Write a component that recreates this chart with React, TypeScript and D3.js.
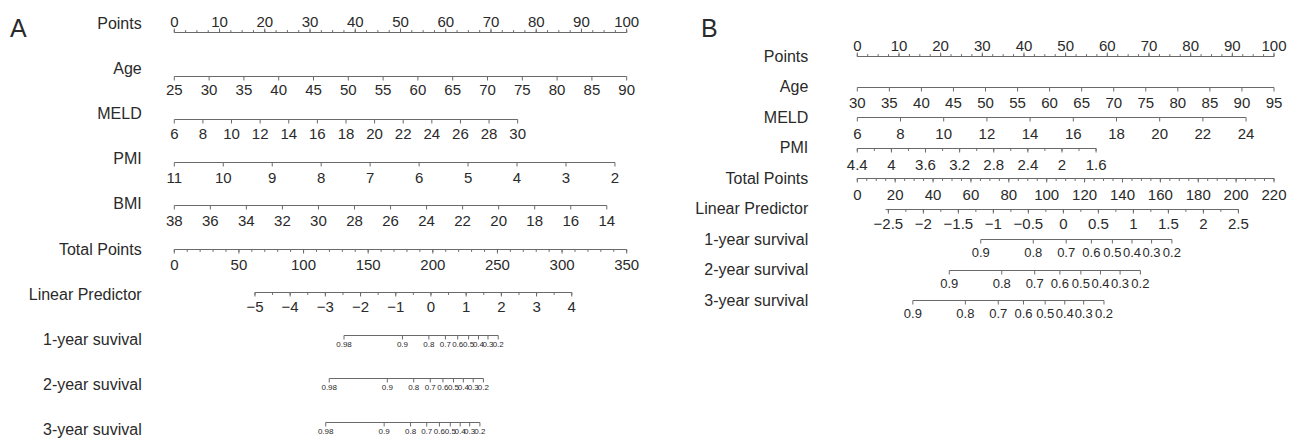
import React from "react";
import * as d3 from "d3";

const W = 1289;
const H = 438;
const FONT = "'Liberation Sans', Arial, Helvetica, sans-serif";
const TEXT = "#2a2a2a";
const LINE = "#6a6a6a";

// ---------- panel A data ----------
const aRowNames = [
  "Points",
  "Age",
  "MELD",
  "PMI",
  "BMI",
  "Total Points",
  "Linear Predictor",
  "1-year suvival",
  "2-year suvival",
  "3-year suvival",
];
const aPointTicks = [0, 10, 20, 30, 40, 50, 60, 70, 80, 90, 100];
const aAgeTicks = [25, 30, 35, 40, 45, 50, 55, 60, 65, 70, 75, 80, 85, 90];
const aAgePoints = [0, 100]; // points at 25 and 90
const aMeldTicks = [6, 8, 10, 12, 14, 16, 18, 20, 22, 24, 26, 28, 30];
const aMeldPoints = [0, 75.9];
const aPmiTicks = [11, 10, 9, 8, 7, 6, 5, 4, 3, 2];
const aPmiPoints = [0, 97.4];
const aBmiTicks = [38, 36, 34, 32, 30, 28, 26, 24, 22, 20, 18, 16, 14];
const aBmiPoints = [0, 95.6];
const aTotalTicks = [0, 50, 100, 150, 200, 250, 300, 350];
const aLpTicks = [-5, -4, -3, -2, -1, 0, 1, 2, 3, 4];
const aLpAtTotal = [62.4, 307.5]; // total points where lp = -5 and 4
const aSurvTicks = [0.98, 0.9, 0.8, 0.7, 0.6, 0.5, 0.4, 0.3, 0.2];
const aSurv1Lp = [-2.47, -0.81, -0.06, 0.41, 0.76, 1.07, 1.35, 1.62, 1.91];
const aSurv2Lp = [-2.89, -1.24, -0.49, -0.02, 0.34, 0.64, 0.92, 1.2, 1.49];
const aSurv3Lp = [-2.99, -1.33, -0.58, -0.12, 0.24, 0.55, 0.83, 1.1, 1.39];

// ---------- panel B data ----------
const bRowNames = [
  "Points",
  "Age",
  "MELD",
  "PMI",
  "Total Points",
  "Linear Predictor",
  "1-year survival",
  "2-year survival",
  "3-year survival",
];
const bPointTicks = [0, 10, 20, 30, 40, 50, 60, 70, 80, 90, 100];
const bAgeTicks = [30, 35, 40, 45, 50, 55, 60, 65, 70, 75, 80, 85, 90, 95];
const bAgePoints = [0, 100];
const bMeldTicks = [6, 8, 10, 12, 14, 16, 18, 20, 22, 24];
const bMeldPoints = [0, 93.3];
const bPmiTicks = [4.4, 4, 3.6, 3.2, 2.8, 2.4, 2, 1.6];
const bPmiPoints = [0, 57.3];
const bTotalTicks = [0, 20, 40, 60, 80, 100, 120, 140, 160, 180, 200, 220];
const bLpTicks = [-2.5, -2, -1.5, -1, -0.5, 0, 0.5, 1, 1.5, 2, 2.5];
const bLpAtTotal = [16.4, 201.2]; // total points where lp = -2.5 and 2.5
const bSurvTicks = [0.9, 0.8, 0.7, 0.6, 0.5, 0.4, 0.3, 0.2];
const bSurv1Lp = [-1.18, -0.43, 0.04, 0.4, 0.7, 0.98, 1.26, 1.55];
const bSurv2Lp = [-1.63, -0.88, -0.41, -0.05, 0.25, 0.53, 0.81, 1.1];
const bSurv3Lp = [-2.15, -1.4, -0.93, -0.57, -0.26, 0.02, 0.29, 0.58];

const fmt = (v: number) => (v < 0 ? "\u2212" + Math.abs(v) : String(v));

type AxisProps = {
  x: (v: number) => number;
  y: number;
  labels: number[];
  minor?: number[];
  above?: boolean;
  fs: number;
  dy: number;
  tick: number;
  lo?: number;
  texts?: string[];
};

function Axis({ x, y, labels, minor = [], above = false, fs, dy, tick, lo, texts }: AxisProps) {
  const dir = above ? -1 : 1;
  const yy = Math.round(y) + 0.5;
  const xs = labels.map(x);
  const start = lo !== undefined ? x(lo) : d3.min(xs)!;
  return (
    <g>
      <line x1={start} x2={d3.max(xs)} y1={yy} y2={yy} stroke={LINE} />
      {minor.map((v, i) => (
        <line key={"m" + i} x1={x(v)} x2={x(v)} y1={yy} y2={yy + dir * tick * 0.6} stroke={LINE} />
      ))}
      {labels.map((v, i) => (
        <g key={i}>
          <line x1={xs[i]} x2={xs[i]} y1={yy} y2={yy + dir * tick} stroke={LINE} />
          <text x={xs[i]} y={above ? yy - dy : yy + dy} textAnchor="middle" fontSize={fs} fill={TEXT}>
            {texts ? texts[i] : fmt(v)}
          </text>
        </g>
      ))}
    </g>
  );
}

function PanelA() {
  const pts = d3.scaleLinear().domain([0, 100]).range([174.3, 626.7]);
  const total = d3.scaleLinear().domain([0, 350]).range([174.3, 626.7]);
  const lp = d3.scaleLinear().domain([-5, 4]).range(aLpAtTotal.map(total));
  const row = d3.scalePoint<string>().domain(aRowNames).range([32.3, 421.7]);
  const labelRow = d3.scalePoint<string>().domain(aRowNames).range([29, 435]);
  const vscale = (dom: number[], p: number[]) => d3.scaleLinear().domain([dom[0], dom[dom.length - 1]]).range(p.map(pts));
  const age = vscale(aAgeTicks, aAgePoints);
  const meld = vscale(aMeldTicks, aMeldPoints);
  const pmi = vscale(aPmiTicks, aPmiPoints);
  const bmi = vscale(aBmiTicks, aBmiPoints);
  const survs = [aSurv1Lp, aSurv2Lp, aSurv3Lp];
  return (
    <g>
      <text x={10} y={37} fontSize={25} fill={TEXT}>A</text>
      {aRowNames.map((n) => (
        <text key={n} x={141.7} y={labelRow(n)} textAnchor="end" fontSize={16} fill={TEXT}>
          {n}
        </text>
      ))}
      <Axis x={pts} y={row("Points")!} labels={aPointTicks} minor={d3.range(0, 100.01, 2.5)} above fs={15} dy={6} tick={4} />
      <Axis x={age} y={row("Age")!} labels={aAgeTicks} fs={15} dy={18} tick={4} />
      <Axis x={meld} y={row("MELD")!} labels={aMeldTicks} fs={15} dy={19} tick={4} />
      <Axis x={pmi} y={row("PMI")!} labels={aPmiTicks} fs={15} dy={20} tick={4} />
      <Axis x={bmi} y={row("BMI")!} labels={aBmiTicks} fs={15} dy={20} tick={4} />
      <Axis x={total} y={row("Total Points")!} labels={aTotalTicks} minor={d3.range(0, 350.01, 10)} fs={15} dy={20} tick={4} />
      <Axis x={lp} y={row("Linear Predictor")!} labels={aLpTicks} minor={d3.range(-5, 4.01, 0.5)} fs={15} dy={19} tick={4} />
      {survs.map((s, k) => (
        <Axis
          key={k}
          x={(v) => lp(s[aSurvTicks.indexOf(v)])}
          y={row(aRowNames[7 + k])!}
          labels={aSurvTicks}
          texts={aSurvTicks.map(String)}
          fs={8}
          dy={11}
          tick={4}
        />
      ))}
    </g>
  );
}

function PanelB() {
  const pts = d3.scaleLinear().domain([0, 100]).range([857.3, 1274]);
  const total = d3.scaleLinear().domain([0, 220]).range([857.3, 1274]);
  const lp = d3.scaleLinear().domain([-2.5, 2.5]).range(bLpAtTotal.map(total));
  const row = d3.scalePoint<string>().domain(bRowNames).range([56, 300]);
  const vscale = (dom: number[], p: number[]) => d3.scaleLinear().domain([dom[0], dom[dom.length - 1]]).range(p.map(pts));
  const age = vscale(bAgeTicks, bAgePoints);
  const meld = vscale(bMeldTicks, bMeldPoints);
  const pmi = vscale(bPmiTicks, bPmiPoints);
  const survs = [bSurv1Lp, bSurv2Lp, bSurv3Lp];
  return (
    <g>
      <text x={701} y={37} fontSize={25} fill={TEXT}>B</text>
      {bRowNames.map((n) => (
        <text key={n} x={808.3} y={row(n)! + 5.5} textAnchor="end" fontSize={16} fill={TEXT}>
          {n}
        </text>
      ))}
      <Axis x={pts} y={row("Points")!} labels={bPointTicks} minor={d3.range(0, 100.01, 2.5)} above fs={15} dy={6} tick={4} />
      <Axis x={age} y={row("Age")!} labels={bAgeTicks} fs={15} dy={20} tick={4} />
      <Axis x={meld} y={row("MELD")!} labels={bMeldTicks} fs={15} dy={21} tick={4} />
      <Axis x={pmi} y={row("PMI")!} labels={bPmiTicks} minor={d3.range(1.6, 4.41, 0.2)} fs={15} dy={21} tick={4} />
      <Axis x={total} y={row("Total Points")!} labels={bTotalTicks} minor={d3.range(0, 220.01, 5)} fs={15} dy={21} tick={4} />
      <Axis x={lp} y={row("Linear Predictor")!} labels={bLpTicks} minor={d3.range(-2.5, 2.51, 0.25)} lo={-2.54} fs={15} dy={19} tick={4} />
      {survs.map((s, k) => (
        <Axis
          key={k}
          x={(v) => lp(s[bSurvTicks.indexOf(v)])}
          y={row(bRowNames[6 + k])!}
          labels={bSurvTicks}
          texts={bSurvTicks.map(String)}
          fs={13}
          dy={17.5}
          tick={4}
        />
      ))}
    </g>
  );
}

export default function App() {
  return (
    <svg
      width={W}
      height={H}
      style={{ position: "absolute", left: 0, top: 0, background: "#fff" }}
      fontFamily={FONT}
    >
      <rect width={W} height={H} fill="#fff" />
      <PanelA />
      <PanelB />
    </svg>
  );
}
